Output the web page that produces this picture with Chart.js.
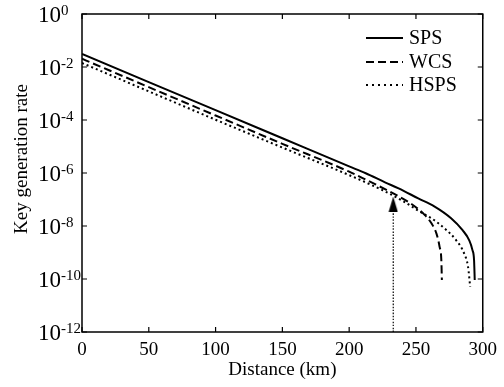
<!DOCTYPE html>
<html>
<head>
<meta charset="utf-8">
<script src="https://cdn.jsdelivr.net/npm/chart.js@4/dist/chart.umd.min.js"></script>
<style>
  html, body { margin: 0; padding: 0; background: #fff; }
  #wrap { width: 504px; height: 387px; }
</style>
</head>
<body>
<div id="wrap"><canvas id="myChart" width="504" height="387"></canvas></div>
<script>
// values (rate given as log10 exponent)
const spsKm = [0, 50, 100, 150, 200, 212.4, 227.2, 237, 251.7, 264, 276.3, 284.9, 289.8, 292.3, 293.5, 294];
const spsLog = [-1.51, -2.57, -3.63, -4.69, -5.75, -6.01, -6.36, -6.58, -6.96, -7.27, -7.71, -8.16, -8.53, -8.91, -9.29, -10.04];
const wcsKm = [0, 50, 100, 150, 200, 212.4, 227.2, 237, 246.9, 256.7, 261.6, 265.3, 267.7, 269, 269.4];
const wcsLog = [-1.69, -2.76, -3.83, -4.9, -5.95, -6.25, -6.62, -6.88, -7.18, -7.59, -7.9, -8.28, -8.79, -9.29, -10.04];
const hspsKm = [0, 50, 100, 150, 200, 225, 240, 254.2, 261.6, 271.4, 280, 286.1, 289, 290.6];
const hspsLog = [-1.85, -2.92, -3.99, -5.04, -6.08, -6.65, -7.05, -7.5, -7.71, -8.09, -8.53, -9.04, -9.54, -10.3];
const seriesNames = ["SPS", "WCS", "HSPS"];
const arrowKm = 233;
const arrowLog = [-12, -7.17];

const xTicks = [0, 50, 100, 150, 200, 250, 300];
const yExps = [0, -2, -4, -6, -8, -10, -12];

const serif = "'Liberation Serif', 'Times New Roman', serif";

function toPoints(km, lg){
    return km.map((k, i) => ({x: k, y: Math.pow(10, lg[i])}));
}

// arrow head used as point style
const head = document.createElement('canvas');
head.width = 10; head.height = 15;
const hctx = head.getContext('2d');
hctx.fillStyle = '#000';
hctx.beginPath();
hctx.moveTo(5, 0); hctx.lineTo(9.5, 15); hctx.lineTo(0.5, 15);
hctx.closePath();
hctx.fill();

const frameAndLabels = {
    id: 'frameAndLabels',
    afterDraw(chart){
        const ctx = chart.ctx, a = chart.chartArea;
        const xs = chart.scales.x, ys = chart.scales.y;
        ctx.save();
        ctx.strokeStyle = '#000';
        ctx.lineWidth = 1.5;
        ctx.strokeRect(a.left, a.top, a.right - a.left, a.bottom - a.top);
        ctx.lineWidth = 1.2;
        ctx.beginPath();
        xTicks.forEach(v => {
            const px = xs.getPixelForValue(v);
            ctx.moveTo(px, a.bottom); ctx.lineTo(px, a.bottom - 5);
            ctx.moveTo(px, a.top); ctx.lineTo(px, a.top + 5);
        });
        yExps.forEach(e => {
            const py = ys.getPixelForValue(Math.pow(10, e));
            ctx.moveTo(a.left, py); ctx.lineTo(a.left + 5, py);
            ctx.moveTo(a.right, py); ctx.lineTo(a.right - 5, py);
        });
        ctx.stroke();

        // y tick labels 10^n
        ctx.fillStyle = '#000';
        ctx.textBaseline = 'middle';
        ctx.textAlign = 'left';
        yExps.forEach(e => {
            const py = ys.getPixelForValue(Math.pow(10, e));
            ctx.font = '23px ' + serif;
            ctx.fillText('10', 38, py + 2);
            const w = ctx.measureText('10').width;
            ctx.font = '15px ' + serif;
            ctx.fillText(e === 0 ? '0' : '-' + Math.abs(e), 38 + w, py - 3);
        });

        // y title
        ctx.save();
        ctx.translate(22, 159);
        ctx.rotate(-Math.PI / 2);
        ctx.textAlign = 'center';
        ctx.font = '19px ' + serif;
        ctx.fillText('Key generation rate', 0, 0);
        ctx.restore();

        // legend
        const rows = [38, 62, 85];
        chart.data.datasets.slice(0, 3).forEach((ds, i) => {
            ctx.beginPath();
            ctx.lineWidth = ds.borderWidth;
            ctx.setLineDash(i == 2 ? [2, 4] : (ds.borderDash || []));
            ctx.moveTo(366, rows[i]); ctx.lineTo(403, rows[i]);
            ctx.stroke();
            ctx.setLineDash([]);
            ctx.font = '20px ' + serif;
            ctx.textAlign = 'left';
            ctx.fillText(ds.label, 409, rows[i] + 1);
        });
        ctx.restore();
    }
};

new Chart("myChart", {
    type: "line",
    data: {
        datasets: [
            {label: seriesNames[0], data: toPoints(spsKm, spsLog), borderColor: '#000', borderWidth: 2, borderDash: []},
            {label: seriesNames[1], data: toPoints(wcsKm, wcsLog), borderColor: '#000', borderWidth: 2, borderDash: [8, 4]},
            {label: seriesNames[2], data: toPoints(hspsKm, hspsLog), borderColor: '#000', borderWidth: 2, borderDash: [2, 3]},
            {label: 'arrow', data: arrowLog.map(v => ({x: arrowKm, y: Math.pow(10, v)})),
             borderColor: '#000', borderWidth: 1.2, borderDash: [1.5, 1.5],
             pointRadius: [0, 6], pointStyle: head}
        ]
    },
    options: {
        responsive: false,
        animation: false,
        cubicInterpolationMode: 'monotone',
        elements: {point: {radius: 0}},
        layout: {padding: {top: 14, right: 15, left: 0, bottom: 0}},
        plugins: {legend: {display: false}, tooltip: {enabled: false}},
        scales: {
            x: {
                type: 'linear', min: 0, max: 300,
                afterBuildTicks: s => { s.ticks = xTicks.map(v => ({value: v})); },
                afterFit: s => { s.height = 55; },
                grid: {display: false, drawTicks: false},
                border: {display: false},
                ticks: {color: '#000', font: {family: serif, size: 19}, padding: 7, maxRotation: 0},
                title: {display: true, text: 'Distance (km)', color: '#000', font: {family: serif, size: 19}, padding: {top: 0, bottom: 6}}
            },
            y: {
                type: 'logarithmic', min: 1e-12, max: 1,
                afterFit: s => { s.width = 82; },
                grid: {display: false, drawTicks: false},
                border: {display: false},
                ticks: {display: false}
            }
        }
    },
    plugins: [frameAndLabels]
});
</script>
</body>
</html>
